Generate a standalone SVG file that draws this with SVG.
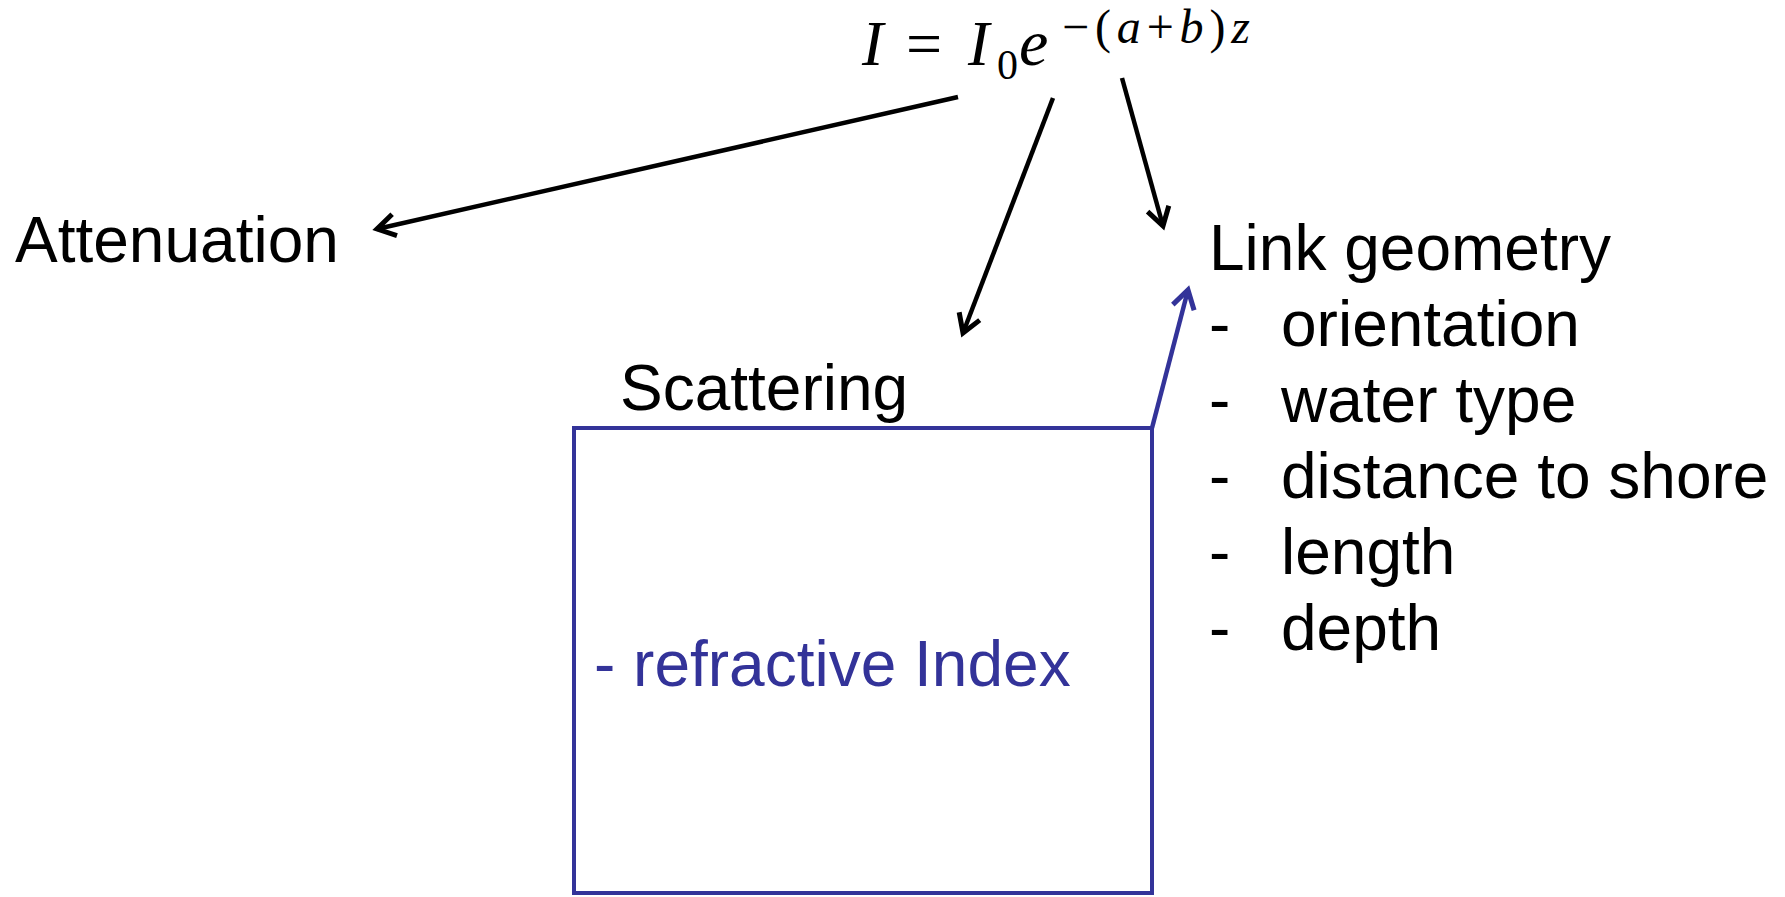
<svg xmlns="http://www.w3.org/2000/svg" width="1785" height="897" viewBox="0 0 1785 897">
<defs>
<style>
.t{font-family:"Liberation Sans",Arial,sans-serif;font-size:64px;fill:#000}
.b{fill:#333399}
.m{font-family:"Liberation Serif","DejaVu Serif",serif;font-style:italic;fill:#000}
.mu{font-family:"Liberation Serif","DejaVu Serif",serif;font-style:normal;fill:#000}
.c{stroke:#000;stroke-width:4.5;fill:none}
.cb{stroke:#333399;stroke-width:4.5;fill:none}
</style>
<marker id="ah" markerUnits="userSpaceOnUse" markerWidth="30" markerHeight="30" refX="22" refY="12" orient="auto" viewBox="0 0 30 24">
<path d="M4,1 L22,12 L4,23" fill="none" stroke="#000" stroke-width="5" stroke-linejoin="miter"/>
</marker>
<marker id="ahb" markerUnits="userSpaceOnUse" markerWidth="30" markerHeight="30" refX="22" refY="12" orient="auto" viewBox="0 0 30 24">
<path d="M4,1 L22,12 L4,23" fill="none" stroke="#333399" stroke-width="5" stroke-linejoin="miter"/>
</marker>
</defs>
<rect width="1785" height="897" fill="#fff"/>
<g id="formula">
<text class="m" x="862" y="65" font-size="64">I</text>
<text class="mu" x="906" y="65" font-size="64">=</text>
<text class="m" x="968" y="65" font-size="64">I</text>
<text class="mu" x="997" y="79" font-size="42">0</text>
<text class="m" x="1019" y="65" font-size="66">e</text>
<text class="mu" x="1062" y="43" font-size="48" textLength="188" lengthAdjust="spacing">−(<tspan class="m">a</tspan>+<tspan class="m">b</tspan>)<tspan class="m">z</tspan></text>
</g>
<g id="attenuation">
<text class="t" x="15" y="262">Attenuation</text>
</g>
<g id="scattering">
<text class="t" x="620" y="410">Scattering</text>
<rect x="574" y="428" width="578" height="465" fill="none" stroke="#333399" stroke-width="4"/>
<text class="t b" x="594" y="686">- refractive Index</text>
</g>
<g id="link-geometry">
<text class="t" x="1209" y="270">Link geometry</text>
<text class="t" x="1209" y="346">-</text><text class="t" x="1281" y="346">orientation</text>
<text class="t" x="1209" y="422">-</text><text class="t" x="1281" y="422">water type</text>
<text class="t" x="1209" y="498">-</text><text class="t" x="1281" y="498">distance to shore</text>
<text class="t" x="1209" y="574">-</text><text class="t" x="1281" y="574">length</text>
<text class="t" x="1209" y="650">-</text><text class="t" x="1281" y="650">depth</text>
</g>
<g id="connectors">
<line class="c" x1="958" y1="97" x2="377" y2="229" marker-end="url(#ah)"/>
<line class="c" x1="1053" y1="98" x2="963" y2="333" marker-end="url(#ah)"/>
<line class="c" x1="1122" y1="78" x2="1163" y2="226" marker-end="url(#ah)"/>
<line class="cb" x1="1152" y1="428" x2="1188" y2="290" marker-end="url(#ahb)"/>
</g>
</svg>
